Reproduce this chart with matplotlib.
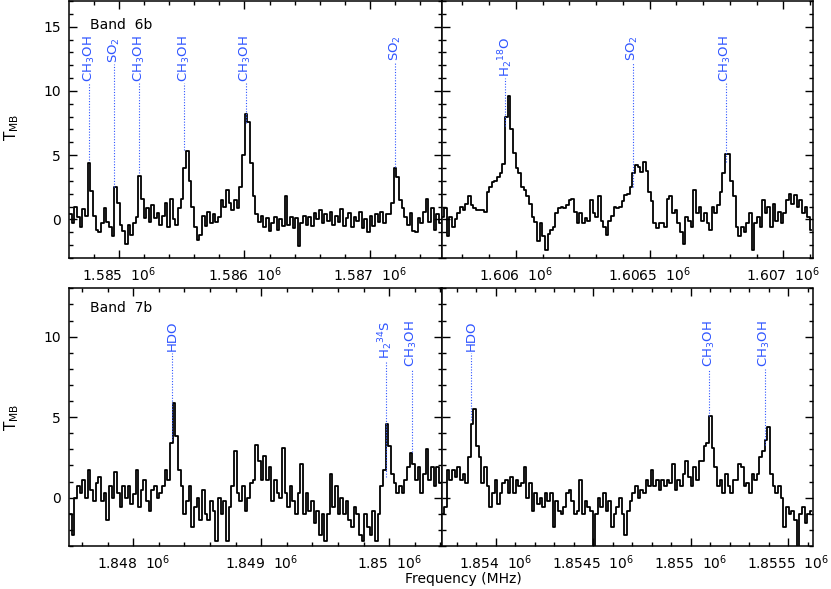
import numpy as np
import matplotlib
matplotlib.use('Agg')
import matplotlib.pyplot as plt
from matplotlib.ticker import MultipleLocator, FuncFormatter

#frequency coverage of each sub-band (MHz)
range_6b_lo = (1584602, 1587570)
range_6b_hi = (1605722, 1607109)
range_7b_lo = (1847498, 1850408)
range_7b_hi = (1853722, 1855625)

#spectra (T_MB, K), one value per channel
tmb_6b_lo = [0.4, -0.3, 1.0, 0.2, -0.6, 0.8, 0.3, 4.4, 2.2, 0.3,
             -0.8, -1.0, -0.3, 0.9, -0.2, -0.6, -1.3, 2.5, 1.3, -0.4,
             -0.9, -1.9, -0.4, -1.2, -0.3, 0.2, 3.4, 1.6, 0.1, 0.9,
             -0.2, 1.1, 0.1, 0.5, -0.4, 0.3, 1.3, -0.6, 1.6, 0.0,
             -0.4, 0.9, 1.6, 4.0, 5.3, 3.0, 1.0, -0.6, -1.6, -1.2,
             0.3, -0.5, 0.6, -0.3, 0.4, -0.2, 0.2, 1.5, 1.0, 2.3,
             1.3, 0.7, 1.5, 0.9, 2.5, 5.0, 8.2, 7.6, 4.4, 1.8,
             0.4, -0.2, 0.3, -0.6, 0.1, -0.9, -0.3, 0.2, -0.8, 0.0,
             -0.5, 1.8, -0.4, 0.2, -0.7, 0.1, -2.1, -0.3, 0.3, -0.4,
             0.2, -0.5, 0.5, 0.0, 0.7, -0.3, 0.4, -0.1, 0.6, -0.4,
             0.3, -0.2, 0.8, -0.5, 0.1, 0.5, -0.6, 0.2, -0.1, 0.6,
             -0.7, 0.0, -1.0, 0.3, -0.5, 0.4, -0.2, 0.6, -0.3, 0.4,
             0.4, 1.3, 4.0, 3.3, 1.5, 0.9, 0.2, -0.4, 0.5, -0.9,
             -1.0, 0.1, -0.3, 0.6, 1.6, -0.2, 0.9, -0.8, 0.4, -0.3]

tmb_6b_hi = [0.2, 0.9, -1.3, 0.2, -0.6, 0.0, 0.5, 1.0, 0.7, 1.2,
             1.8, 1.1, 0.9, 0.7, 0.7, 0.7, 0.6, 2.1, 2.5, 2.9,
             3.0, 3.3, 3.6, 4.3, 8.0, 9.6, 7.0, 5.2, 4.0, 3.6,
             2.5, 2.3, 1.8, 1.2, 0.2, -0.2, -1.7, -0.3, -1.3, -2.4,
             -1.1, -0.8, -0.6, 0.5, 0.9, 1.0, 0.9, 1.1, 1.5, 1.6,
             0.6, -0.3, 0.5, -0.3, 0.1, -0.1, 1.5, 0.5, 0.2, 1.8,
             -0.1, -0.6, -1.2, -0.1, 0.3, 1.0, 0.9, 1.0, 1.4, 1.9,
             2.0, 2.5, 3.6, 4.2, 4.1, 3.7, 4.5, 3.8, 2.1, 1.4,
             -0.3, -0.7, -0.3, -0.3, -0.6, 1.6, 1.8, 0.5, 0.7, -0.3,
             -1.0, -1.9, 0.2, -0.1, -0.6, 2.3, 0.5, 1.0, -0.1, 0.5,
             -0.3, -0.8, 1.0, 0.5, 1.1, 2.1, 3.6, 5.1, 5.1, 3.0,
             1.8, -0.6, -1.3, -0.6, -1.0, -0.3, 0.5, -2.4, -0.3, 0.2,
             -0.6, 1.5, 0.5, 1.0, -0.6, 1.2, -0.1, 0.6, -0.3, 0.5,
             1.5, 2.0, 1.2, 1.9, 1.0, 1.5, 0.5, 1.0, 0.2, -0.8]

tmb_7b_lo = [-1.0, -2.3, 0.0, 0.7, 0.3, 1.1, 0.0, 1.7, 0.5, -0.2,
             0.9, 1.3, -0.2, 0.3, -1.4, 0.7, 0.0, 1.6, 0.3, -0.6,
             0.7, 0.0, 0.7, -0.4, 0.2, 1.7, -0.6, 0.5, 1.1, -0.2,
             -0.8, 0.5, 0.7, 0.0, 0.3, 0.7, 1.7, 1.1, 3.4, 5.9,
             3.8, 1.7, 0.7, -1.0, -0.2, 0.7, -1.8, -0.6, 0.0, -1.4,
             0.5, -1.0, -1.4, -0.2, -0.8, -2.7, 0.0, -1.0, -0.2, -2.7,
             -0.6, 0.7, 2.9, 0.3, -0.2, 0.7, -0.8, 0.0, 0.9, 1.1,
             3.3, 2.3, 1.1, 2.6, 1.1, 1.9, -0.2, 1.1, 0.3, 0.0,
             3.1, 0.3, -0.6, 0.7, -0.2, -1.0, 0.3, 2.1, -1.0, 0.3,
             -0.8, -0.2, -1.6, -0.8, -2.3, -1.0, -2.7, -1.0, 1.5, -0.6,
             0.7, -1.0, 0.0, -1.0, -0.2, -1.4, -1.8, -0.6, -1.0, -2.3,
             -2.7, -1.0, -1.8, -2.3, -0.8, -2.7, -1.0, 0.7, 1.7, 4.6,
             3.2, 1.5, 0.9, 0.3, 0.7, 0.3, 1.1, 1.9, 2.8, 2.1,
             1.1, 1.9, 0.3, 1.5, 3.0, 1.1, 1.9, 0.7, 1.9, 0.9]

tmb_7b_hi = [-1.0, -0.6, 1.7, 1.1, 1.7, 1.3, 1.9, 1.1, 1.5, 0.9,
             2.5, 4.6, 5.5, 3.2, 2.5, 0.9, 1.9, 0.7, -0.6, 0.3,
             1.1, -0.4, 0.3, 0.9, 1.1, 0.3, 1.3, 0.3, 1.1, 0.7,
             0.9, 1.9, 0.0, 0.9, -0.8, 0.3, -0.4, 0.0, -0.6, 0.3,
             -0.2, 0.3, -1.8, -0.2, -0.8, -1.0, -0.6, 0.3, 0.5, -0.2,
             -1.0, -0.8, 1.1, -1.0, -0.2, -0.6, -0.8, -3.1, -1.0, 0.0,
             -0.6, 0.3, -0.8, -0.2, -1.8, -1.0, -0.6, 0.0, -1.0, -2.3,
             -0.8, -0.2, 0.3, 0.7, 0.0, 0.5, 0.3, 1.1, 0.7, 1.7,
             0.7, 1.1, 0.5, 1.1, 0.7, 1.1, 0.9, 2.1, 0.5, 1.1,
             0.7, 1.5, 2.3, 1.3, 0.7, 1.9, 1.1, 2.3, 2.3, 3.2,
             3.4, 5.1, 3.1, 1.9, 0.7, 1.1, 0.3, 1.5, 0.7, 0.3,
             1.1, 1.1, 2.1, 1.9, 0.7, 0.9, 0.3, 1.5, 1.1, 1.5,
             2.5, 2.9, 3.6, 4.4, 1.5, 0.7, 0.3, 0.7, 0.0, -1.8,
             -0.6, -1.0, -0.8, -1.4, -3.1, -1.0, -0.6, -1.6, -1.0, -0.8]

#line identifications: rest freq (MHz), species, T where the marker meets the spectrum
lines_6b_lo = [1584764, 1584961, 1585162, 1585521, 1586010, 1587202]
names_6b_lo = ['CH$_3$OH', 'SO$_2$', 'CH$_3$OH', 'CH$_3$OH', 'CH$_3$OH', 'SO$_2$']
tips_6b_lo = [4.6, 2.5, 3.6, 5.4, 7.5, 4.1]

lines_6b_hi = [1605960, 1606437, 1606785]
names_6b_hi = ['H$_2$$^{18}$O', 'SO$_2$', 'CH$_3$OH']
tips_6b_hi = [7.3, 2.5, 4.5]

lines_7b_lo = [1848305, 1849972, 1850177]
names_7b_lo = ['HDO', 'H$_2$$^{34}$S', 'CH$_3$OH']
tips_7b_lo = [3.6, 1.3, 2.85]

lines_7b_hi = [1853873, 1855095, 1855381]
names_7b_hi = ['HDO', 'CH$_3$OH', 'CH$_3$OH']
tips_7b_hi = [4.8, 5.1, 3.3]

#layout: height of the label base for each line
lab_6b_lo = [10.6, 12.1, 10.6, 10.6, 10.6, 12.2]
lab_6b_hi = [11.0, 12.2, 10.6]
lab_7b_lo = [9.0, 8.5, 8.0]
lab_7b_hi = [9.0, 8.0, 8.0]

blue = '#2f55ff'

fig = plt.figure(figsize=(8.31, 5.89), dpi=100)
W, H = 831., 589.
ax1 = fig.add_axes([69/W, 1-258/H, 372.5/W, 257/H])
ax2 = fig.add_axes([441.5/W, 1-258/H, 371/W, 257/H])
ax3 = fig.add_axes([69/W, 1-546/H, 372.5/W, 257.7/H])
ax4 = fig.add_axes([441.5/W, 1-546/H, 371/W, 257.7/H])

fmt = FuncFormatter(lambda x, pos: f'{x/1e6:g}  10$^6$')

panels = [
    (ax1, range_6b_lo, tmb_6b_lo, lines_6b_lo, names_6b_lo, tips_6b_lo, lab_6b_lo, (-3, 17), 1000, 200),
    (ax2, range_6b_hi, tmb_6b_hi, lines_6b_hi, names_6b_hi, tips_6b_hi, lab_6b_hi, (-3, 17), 500, 100),
    (ax3, range_7b_lo, tmb_7b_lo, lines_7b_lo, names_7b_lo, tips_7b_lo, lab_7b_lo, (-3, 13), 1000, 200),
    (ax4, range_7b_hi, tmb_7b_hi, lines_7b_hi, names_7b_hi, tips_7b_hi, lab_7b_hi, (-3, 13), 500, 100),
]

for ax, frange, tmb, lf, ln, lt, ly, ylim, major, minor in panels:
    edges = np.linspace(frange[0], frange[1], len(tmb) + 1)
    freq = 0.5*(edges[1:] + edges[:-1])
    ax.plot(freq, tmb, color='k', lw=1.3, drawstyle='steps-mid')

    #dotted markers + species names
    for f, name, tip, yl in zip(lf, ln, lt, ly):
        ax.plot([f, f], [tip, yl], color=blue, lw=0.8, ls=(0, (1, 1.5)))
        ax.text(f, yl + 0.1, name, rotation=90, ha='center', va='bottom',
                color=blue, fontsize=9.5)

    ax.set_xlim(frange)
    ax.set_ylim(ylim)
    ax.xaxis.set_major_locator(MultipleLocator(major))
    ax.xaxis.set_minor_locator(MultipleLocator(minor))
    ax.xaxis.set_major_formatter(fmt)
    ax.yaxis.set_major_locator(MultipleLocator(5))
    ax.yaxis.set_minor_locator(MultipleLocator(1))
    ax.tick_params(which='both', direction='in', top=True, right=True, width=1.0)
    ax.tick_params(which='major', length=6, labelsize=10)
    ax.tick_params(which='minor', length=3)
    ax.tick_params(axis='x', pad=5)
    ax.tick_params(axis='y', pad=6)
    for s in ax.spines.values():
        s.set_linewidth(1.1)

for ax in (ax2, ax4):
    ax.tick_params(labelleft=False)

ax1.text(0.056, 0.907, 'Band  6b', transform=ax1.transAxes, fontsize=10, va='center')
ax3.text(0.056, 0.924, 'Band  7b', transform=ax3.transAxes, fontsize=10, va='center')

fig.text(12/W, 1-127/H, r'T$_{\rm MB}$', rotation=90, ha='center', va='center', fontsize=11)
fig.text(12/W, 1-417/H, r'T$_{\rm MB}$', rotation=90, ha='center', va='center', fontsize=11)
fig.text(463/W, 1-579/H, 'Frequency (MHz)', ha='center', va='center', fontsize=10)

fig.savefig('out.png', dpi=100)
